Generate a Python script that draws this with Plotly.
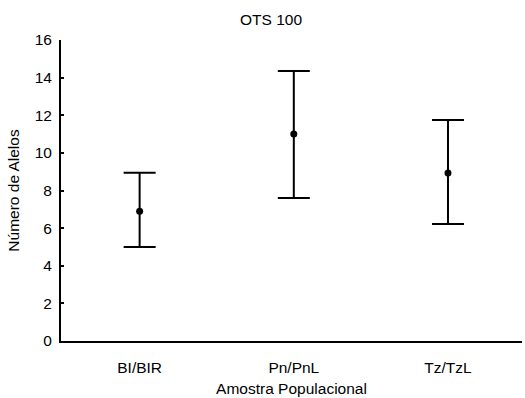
import plotly.graph_objects as go

categories = ["BI/BIR", "Pn/PnL", "Tz/TzL"]
means = [6.9, 11.0, 8.93]
upper = [8.95, 14.35, 11.75]
lower = [5.0, 7.6, 6.22]

err_plus = [u - m for u, m in zip(upper, means)]
err_minus = [m - l for m, l in zip(means, lower)]

fig = go.Figure()
fig.add_trace(go.Scatter(
    x=[0, 1, 2], y=means, mode="markers",
    marker=dict(color="black", size=7),
    error_y=dict(type="data", symmetric=False, array=err_plus, arrayminus=err_minus,
                 color="black", thickness=2, width=16),
    showlegend=False,
))

fam = "Liberation Sans, Arial, sans-serif"
f15 = dict(family=fam, size=15.5, color="black")
fig.update_layout(
    width=525, height=398,
    margin=dict(l=61, r=3, t=40, b=57),
    paper_bgcolor="white", plot_bgcolor="white",
    font=f15,
    title=dict(text="OTS 100", x=271/525, xanchor="center", y=1 - 19.5/398, yanchor="middle",
               font=f15),
    xaxis=dict(range=[-0.51, 2.48], tickmode="array", tickvals=[0, 1, 2], ticktext=categories,
               showline=True, linecolor="black", linewidth=2, ticks="", showgrid=False,
               zeroline=False, ticklabelstandoff=11, tickfont=f15,
               title=dict(text="Amostra Populacional", standoff=9, font=f15)),
    yaxis=dict(range=[0, 16], dtick=2, showline=True, linecolor="black", linewidth=2,
               ticks="inside", ticklen=3, tickwidth=1.5, tickcolor="black",
               showgrid=False, zeroline=False, tickfont=f15, ticklabelstandoff=4,
               title=dict(text="Número de Alelos", standoff=11, font=f15)),
)
fig.write_html("out.html")
